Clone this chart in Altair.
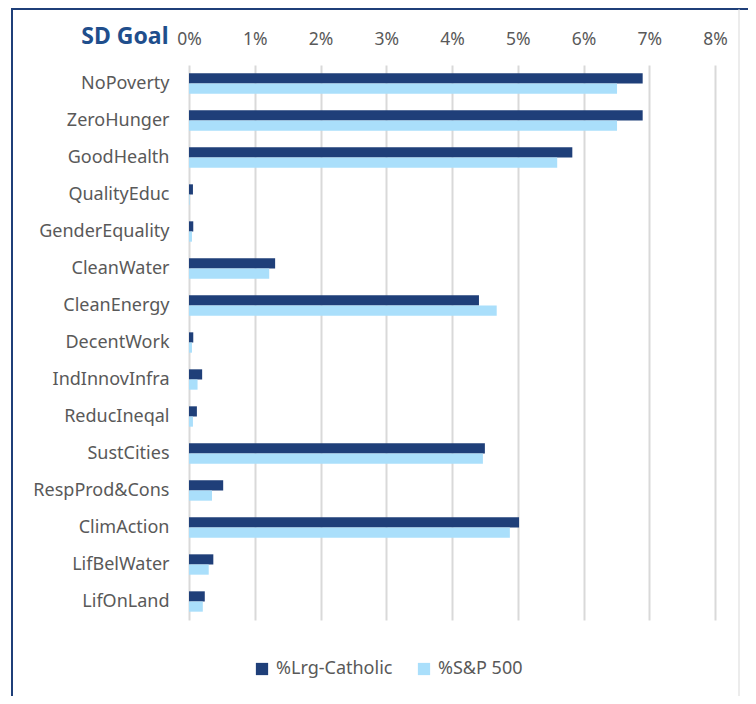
import altair as alt
import pandas as pd

categories = ["NoPoverty", "ZeroHunger", "GoodHealth", "QualityEduc", "GenderEquality",
              "CleanWater", "CleanEnergy", "DecentWork", "IndInnovInfra", "ReducIneqal",
              "SustCities", "RespProd&Cons", "ClimAction", "LifBelWater", "LifOnLand"]
catholic = [6.90, 6.90, 5.83, 0.06, 0.065, 1.31, 4.41, 0.065, 0.20, 0.12, 4.50, 0.52, 5.02, 0.37, 0.24]
sp500 = [6.51, 6.51, 5.60, 0.01, 0.045, 1.22, 4.68, 0.045, 0.13, 0.06, 4.47, 0.35, 4.88, 0.30, 0.21]
series = ["%Lrg-Catholic", "%S&P 500"]
colors = ["#1F3F79", "#AADFFB"]
tick_values = [0, 1, 2, 3, 4, 5, 6, 7, 8]

rows = []
for c, a, b in zip(categories, catholic, sp500):
    rows.append({"goal": c, "series": series[0], "value": a})
    rows.append({"goal": c, "series": series[1], "value": b})
df = pd.DataFrame(rows)

FONT = "Noto Sans"
GRAY = "#595959"

bars = alt.Chart(df).mark_bar().encode(
    x=alt.X("value:Q",
            scale=alt.Scale(domain=[0, 8], nice=False),
            axis=alt.Axis(orient="top", values=tick_values, labelExpr="datum.value + '%'",
                          domain=False, ticks=False, labelFontSize=17.5, labelColor=GRAY,
                          labelFont=FONT, labelPadding=17, labelFlush=False,
                          grid=True, gridColor="#D9D9D9",
                          gridWidth=2, title=None)),
    y=alt.Y("goal:N", sort=categories,
            scale=alt.Scale(paddingInner=0.45, paddingOuter=0.225),
            axis=alt.Axis(domain=False, ticks=False, labelFontSize=18, labelColor=GRAY,
                          labelFont=FONT, labelPadding=20, title="SD Goal",
                          titleAngle=0, titleAlign="right", titleBaseline="middle",
                          titleX=-21, titleY=-29, titleFont=FONT, titleFontSize=23,
                          titleFontWeight="bold", titleColor="#1F4E8C")),
    yOffset=alt.YOffset("series:N", sort=series),
    color=alt.Color("series:N", sort=series,
                    scale=alt.Scale(domain=series, range=colors),
                    legend=alt.Legend(orient="none", direction="horizontal", legendX=64,
                                      legendY=595, title=None, symbolType="square",
                                      symbolSize=150, symbolStrokeWidth=0,
                                      labelFontSize=18, labelFont=FONT, labelColor=GRAY,
                                      columnPadding=22, labelOffset=5)),
)

one = pd.DataFrame({"a": [0]})
left_line = alt.Chart(one).mark_rule(color="#1F3F79", strokeWidth=2).encode(
    x=alt.value(-177), y=alt.value(-57), y2=alt.value(640))
top_line = alt.Chart(one).mark_rule(color="#1F3F79", strokeWidth=2).encode(
    x=alt.value(-178), x2=alt.value(560), y=alt.value(-56))
right_line = alt.Chart(one).mark_rule(color="#D9D9D9", strokeWidth=1).encode(
    x=alt.value(550), y=alt.value(-56), y2=alt.value(640))

chart = alt.layer(bars, left_line, top_line, right_line).properties(
    width=526, height=555,
    autosize=alt.AutoSizeParams(type="none"),
    padding={"left": 181, "top": 57, "right": 33, "bottom": 76},
).configure_view(stroke=None)

chart.save("out.html", embed_options={"renderer": "svg", "actions": False})
